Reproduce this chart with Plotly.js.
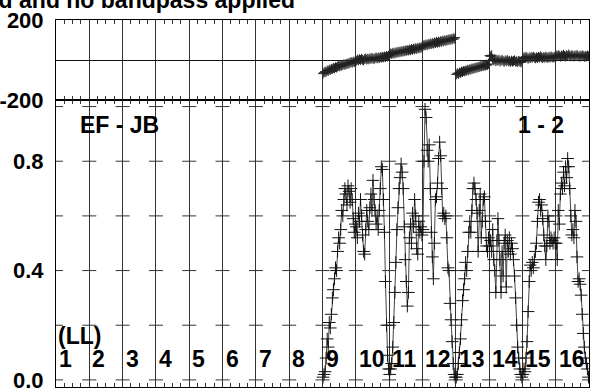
<!DOCTYPE html>
<html>
<head>
<meta charset="utf-8">
<script src="https://cdn.plot.ly/plotly-3.0.1.min.js"></script>
<style>html,body{margin:0;padding:0;background:#fff;overflow:hidden}#chart{width:606px;height:392px}</style>
</head>
<body>
<div id="chart"></div>
<script>
// ---- data ----
const nChan = 32;
const ifLabels = ['1','2','3','4','5','6','7','8','9','10','11','12','13','14','15','16'];
const dataIFs = [9,10,11,12,13,14,15,16];

const amp9  = [0.01,0.02,0.03,0.08,0.15,0.12,0.21,0.19,0.24,0.30,0.33,0.37,0.41,0.40,0.47,0.52,0.50,0.55,0.62,0.60,0.66,0.70,0.68,0.64,0.71,0.69,0.65,0.70,0.66,0.59,0.54,0.57];
const amp10 = [0.56,0.52,0.61,0.58,0.66,0.60,0.53,0.47,0.46,0.55,0.62,0.58,0.55,0.63,0.68,0.62,0.73,0.66,0.62,0.57,0.60,0.55,0.62,0.70,0.78,0.77,0.66,0.54,0.36,0.20,0.09,0.04];
const amp11 = [0.02,0.04,0.06,0.12,0.21,0.32,0.43,0.55,0.63,0.70,0.74,0.79,0.76,0.70,0.56,0.44,0.36,0.27,0.32,0.52,0.57,0.50,0.61,0.56,0.66,0.60,0.48,0.46,0.58,0.54,0.56,0.53];
const amp12 = [0.55,0.80,0.99,0.96,0.84,0.80,0.86,0.70,0.54,0.45,0.37,0.50,0.66,0.67,0.72,0.81,0.87,0.82,0.70,0.60,0.61,0.59,0.60,0.52,0.41,0.40,0.28,0.22,0.14,0.06,0.02,0.01];
const amp13 = [0.01,0.02,0.06,0.10,0.15,0.22,0.29,0.33,0.37,0.43,0.40,0.47,0.54,0.58,0.54,0.62,0.70,0.72,0.70,0.66,0.61,0.47,0.62,0.68,0.52,0.58,0.66,0.67,0.58,0.49,0.47,0.52];
const amp14 = [0.49,0.51,0.47,0.55,0.44,0.40,0.32,0.51,0.59,0.51,0.44,0.32,0.47,0.38,0.50,0.53,0.34,0.51,0.47,0.52,0.46,0.50,0.48,0.44,0.38,0.30,0.20,0.12,0.08,0.04,0.02,0.01];
const amp15 = [0.02,0.04,0.03,0.08,0.14,0.25,0.36,0.42,0.40,0.43,0.41,0.44,0.47,0.50,0.58,0.65,0.66,0.62,0.64,0.59,0.53,0.49,0.44,0.49,0.60,0.58,0.50,0.52,0.51,0.50,0.52,0.50];
const amp16 = [0.50,0.44,0.62,0.57,0.68,0.72,0.70,0.76,0.71,0.78,0.74,0.81,0.78,0.70,0.60,0.53,0.55,0.52,0.62,0.58,0.45,0.36,0.37,0.35,0.31,0.24,0.17,0.12,0.08,0.06,0.04,0.01];

const phs9  = [-68,-62,-58,-60,-52,-55,-48,-50,-44,-46,-40,-42,-36,-38,-33,-30,-32,-27,-29,-24,-22,-25,-19,-21,-16,-18,-13,-10,-14,-8,-11,-6];
const phs10 = [-4,2,-2,4,0,6,1,-3,5,8,2,6,3,9,5,11,7,4,10,13,8,12,9,15,11,16,13,18,14,20,17,22];
const phs11 = [28,33,30,36,31,38,34,40,37,42,39,44,41,46,43,48,45,50,47,52,49,55,51,57,53,59,55,61,58,63,60,66];
const phs12 = [70,75,72,78,74,80,77,83,79,85,81,88,84,90,86,92,88,95,90,97,93,99,95,101,98,104,100,106,102,109,105,112];
const phs13 = [-72,-66,-70,-62,-65,-58,-61,-55,-57,-52,-54,-48,-51,-46,-48,-42,-45,-40,-42,-37,-39,-34,-36,-31,-33,-28,-30,-26,-28,-23,-25,-20];
const phs14 = [22,18,24,5,-2,3,-6,0,-4,2,-8,-3,1,-5,-9,-2,-6,0,-7,-4,-10,-3,-8,-5,-1,-9,-6,-11,-4,-8,-12,-7];
const phs15 = [8,14,10,16,12,6,13,9,15,11,17,12,8,14,10,16,12,18,13,9,15,11,17,13,10,16,12,18,14,11,16,13];
const phs16 = [22,18,25,20,16,23,19,26,21,17,24,20,28,22,18,25,21,17,23,19,26,20,16,22,18,24,20,15,21,17,23,19];

const ampTicks = [0, 0.2, 0.4, 0.6, 0.8, 1.0];
const ampTickLabels = ['0.0', '0.4', '0.8'];
const phsTickLabels = ['-200', '200'];
const baselineLabel = 'EF - JB';
const corrLabel = '1 - 2';
const polLabel = '(LL)';
const titleText = 'calibrated and no bandpass applied';

// ---- build ----
const ampByIF = [amp9, amp10, amp11, amp12, amp13, amp14, amp15, amp16];
const phsByIF = [phs9, phs10, phs11, phs12, phs13, phs14, phs15, phs16];
const xs = [], ay = [], py = [];
dataIFs.forEach((ifn, k) => {
  for (let c = 0; c < nChan; c++) {
    xs.push((ifn - 1) * nChan + c + 0.5);
    ay.push(ampByIF[k][c]);
    py.push(phsByIF[k][c]);
  }
});
const xMax = ifLabels.length * nChan;

// cross ticks on IF boundaries
const bx = [], by = [];
for (let i = 0; i <= ifLabels.length; i++) {
  ampTicks.forEach(t => { bx.push(i * nChan); by.push(t); });
}

const font = 'Liberation Sans, Arial, sans-serif';
const bold = { family: font, size: 23, color: '#000', weight: 'bold' };
const tickBold = { family: font, size: 22, color: '#000', weight: 'bold' };

const traces = [
  { x: bx, y: by, xaxis: 'x', yaxis: 'y', mode: 'markers', hoverinfo: 'skip',
    marker: { symbol: 'line-ew', size: 10, line: { color: '#333', width: 1 } } },
  { x: xs, y: ay, xaxis: 'x', yaxis: 'y', mode: 'lines+markers',
    line: { color: '#444', width: 1 },
    marker: { symbol: 'cross-thin', size: 9, line: { color: '#111', width: 1 } } },
  { x: xs, y: py, xaxis: 'x2', yaxis: 'y2', mode: 'markers',
    error_y: { type: 'constant', value: 12, width: 0, thickness: 1, color: '#333' },
    marker: { symbol: 'cross-thin', size: 7, line: { color: '#222', width: 1 } } }
];

const annotations = [
  { text: titleText, xref: 'paper', yref: 'paper', x: 0.4522, y: 1.0545, xanchor: 'right', yanchor: 'middle',
    showarrow: false, font: bold },
  { text: baselineLabel, xref: 'paper', yref: 'y', x: 0.120, y: 0.933, xanchor: 'center', yanchor: 'middle',
    showarrow: false, font: bold },
  { text: corrLabel, xref: 'paper', yref: 'y', x: 0.910, y: 0.933, xanchor: 'center', yanchor: 'middle',
    showarrow: false, font: bold },
  { text: polLabel, xref: 'x', yref: 'y', x: 0, xshift: 0, y: 0.162, xanchor: 'left', yanchor: 'middle',
    showarrow: false, font: bold }
];
ifLabels.forEach((lab, i) => {
  annotations.push({ text: lab, xref: 'x', yref: 'y', x: i * nChan, xshift: 1, y: 0.075,
    xanchor: 'left', yanchor: 'middle', showarrow: false, font: bold });
});

const xCommon = {
  range: [0, xMax], showgrid: true, gridcolor: '#333', gridwidth: 1,
  dtick: nChan, tick0: 0, ticks: 'inside', ticklen: 7, tickcolor: '#333', tickwidth: 1,
  minor: { dtick: nChan / 4, tick0: 0, ticks: 'inside', ticklen: 4, tickcolor: '#333', showgrid: false },
  showticklabels: false, showline: true, linecolor: '#000', linewidth: 1, mirror: 'ticks',
  zeroline: false, fixedrange: true
};

const layout = {
  width: 606, height: 392,
  margin: { l: 56, r: 17, t: 20, b: 5, pad: 0 },
  paper_bgcolor: '#fff', plot_bgcolor: '#fff',
  showlegend: false,
  font: { family: font, color: '#000' },
  xaxis: Object.assign({}, xCommon, { anchor: 'y', domain: [0, 1] }),
  xaxis2: Object.assign({}, xCommon, { anchor: 'y2', matches: 'x', domain: [0, 1] }),
  yaxis: {
    domain: [0, 0.782], range: [-0.026, 1.024],
    tickvals: [0, 0.4, 0.8], ticktext: ampTickLabels, ticks: '',
    showgrid: false, zeroline: false, showline: true, linecolor: '#000', linewidth: 1, mirror: true,
    tickfont: tickBold, ticklabelstandoff: 7, ticklabeloverflow: 'allow'
  },
  yaxis2: {
    domain: [0.782, 1], range: [-200, 200],
    tickvals: [-200, 200], ticktext: phsTickLabels, ticks: '',
    showgrid: false, zeroline: true, zerolinecolor: '#111', zerolinewidth: 1,
    showline: true, linecolor: '#000', linewidth: 1, mirror: true,
    tickfont: tickBold, ticklabelstandoff: 7, ticklabeloverflow: 'allow'
  },
  annotations: annotations
};

Plotly.newPlot('chart', traces, layout, { staticPlot: true, displayModeBar: false });
</script>
</body>
</html>
